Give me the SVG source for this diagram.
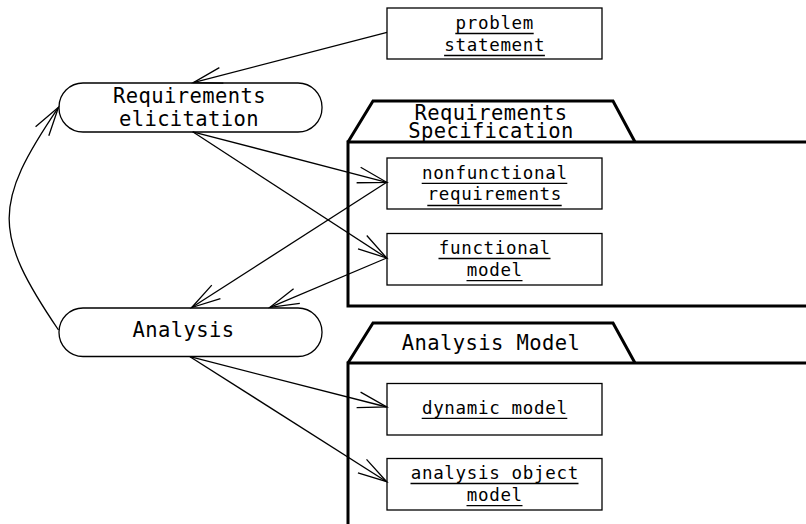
<svg xmlns="http://www.w3.org/2000/svg" width="806" height="524" viewBox="0 0 806 524">
<style>
.big{font-family:"DejaVu Sans Mono","Liberation Mono",monospace;font-size:20.5px;letter-spacing:0.4px;fill:#000;text-anchor:middle}
.small{font-family:"DejaVu Sans Mono","Liberation Mono",monospace;font-size:17.5px;letter-spacing:0.67px;fill:#000;text-anchor:middle}
.box{fill:#fff;stroke:#000;stroke-width:1.3}
.state{fill:#fff;stroke:#000;stroke-width:1.3}
.pkg{fill:none;stroke:#000;stroke-width:3;stroke-linejoin:miter}
.ul{stroke:#000;stroke-width:1.3}
.edge{fill:none;stroke:#000;stroke-width:1.3;marker-end:url(#open)}
</style>
<defs>
<marker id="open" markerUnits="userSpaceOnUse" markerWidth="40" markerHeight="24" viewBox="-34 -12 36 24" refX="0" refY="0" orient="auto" overflow="visible">
<path d="M-29,-8 L0,0 L-29,8" fill="none" stroke="#000" stroke-width="1.3"/>
</marker>
</defs>
<rect width="806" height="524" fill="#fff"/>
<g id="pkg-reqspec">
<path class="pkg" d="M348,142 L373,101 H613 L635,142"/>
<path class="pkg" d="M808,142 H348 V306 H808"/>
<text class="big" x="491" y="119.5">Requirements</text>
<text class="big" x="491" y="137.5">Specification</text>
</g>
<g id="pkg-analysis">
<path class="pkg" d="M348,363 L373,323 H613 L635,363"/>
<path class="pkg" d="M808,363 H348 V530"/>
<text class="big" x="491" y="349.5">Analysis Model</text>
</g>
<g id="req-elicitation">
<rect class="state" x="59" y="83" width="263" height="49" rx="24" ry="24"/>
<text class="big" x="189.5" y="102.7">Requirements</text>
<text class="big" x="189" y="126">elicitation</text>
</g>
<g id="analysis">
<rect class="state" x="59" y="308" width="263" height="48.5" rx="24" ry="24"/>
<text class="big" x="183.5" y="336.7">Analysis</text>
</g>
<g id="problem-statement">
<rect class="box" x="387" y="8" width="215" height="51"/>
<text class="small" x="494.8" y="29">problem</text>
<line class="ul" x1="455.3" y1="33.5" x2="533.7" y2="33.5"/>
<text class="small" x="494.8" y="50.7">statement</text>
<line class="ul" x1="444.1" y1="55.5" x2="544.9" y2="55.5"/>
</g>
<g id="nonfunctional-requirements">
<rect class="box" x="387" y="158" width="215" height="51"/>
<text class="small" x="494.8" y="178.5">nonfunctional</text>
<line class="ul" x1="421.7" y1="183.3" x2="567.3" y2="183.3"/>
<text class="small" x="494.8" y="200.3">requirements</text>
<line class="ul" x1="427.3" y1="205.5" x2="561.7" y2="205.5"/>
</g>
<g id="functional-model">
<rect class="box" x="387" y="233.5" width="215" height="51.5"/>
<text class="small" x="494.8" y="254">functional</text>
<line class="ul" x1="438.5" y1="258.5" x2="550.5" y2="258.5"/>
<text class="small" x="494.8" y="275.8">model</text>
<line class="ul" x1="466.5" y1="280.6" x2="522.5" y2="280.6"/>
</g>
<g id="dynamic-model">
<rect class="box" x="387" y="383.5" width="215" height="51.5"/>
<text class="small" x="494.8" y="413.5">dynamic model</text>
<line class="ul" x1="421.7" y1="418.3" x2="567.3" y2="418.3"/>
</g>
<g id="analysis-object-model">
<rect class="box" x="387" y="458.5" width="215" height="51.5"/>
<text class="small" x="494.8" y="479">analysis object</text>
<line class="ul" x1="410.5" y1="483.5" x2="578.5" y2="483.5"/>
<text class="small" x="494.8" y="500.8">model</text>
<line class="ul" x1="466.5" y1="505.6" x2="522.5" y2="505.6"/>
</g>
<g id="connectors">
<path class="edge" d="M387,32.3 L193.3,82.7"/>
<path class="edge" d="M192.7,131.8 L386.7,182.3"/>
<path class="edge" d="M192.7,131.8 L386.7,258"/>
<path class="edge" d="M386.7,182.3 L191.7,307.5"/>
<path class="edge" d="M386.7,258 L270,307.3"/>
<path class="edge" d="M190,356.7 L386.7,407"/>
<path class="edge" d="M190,356.7 L386.7,481.7"/>
<path class="edge" d="M58.5,330 C-7.3,233 -7.3,204 58.5,107.3"/>
</g>
</svg>
